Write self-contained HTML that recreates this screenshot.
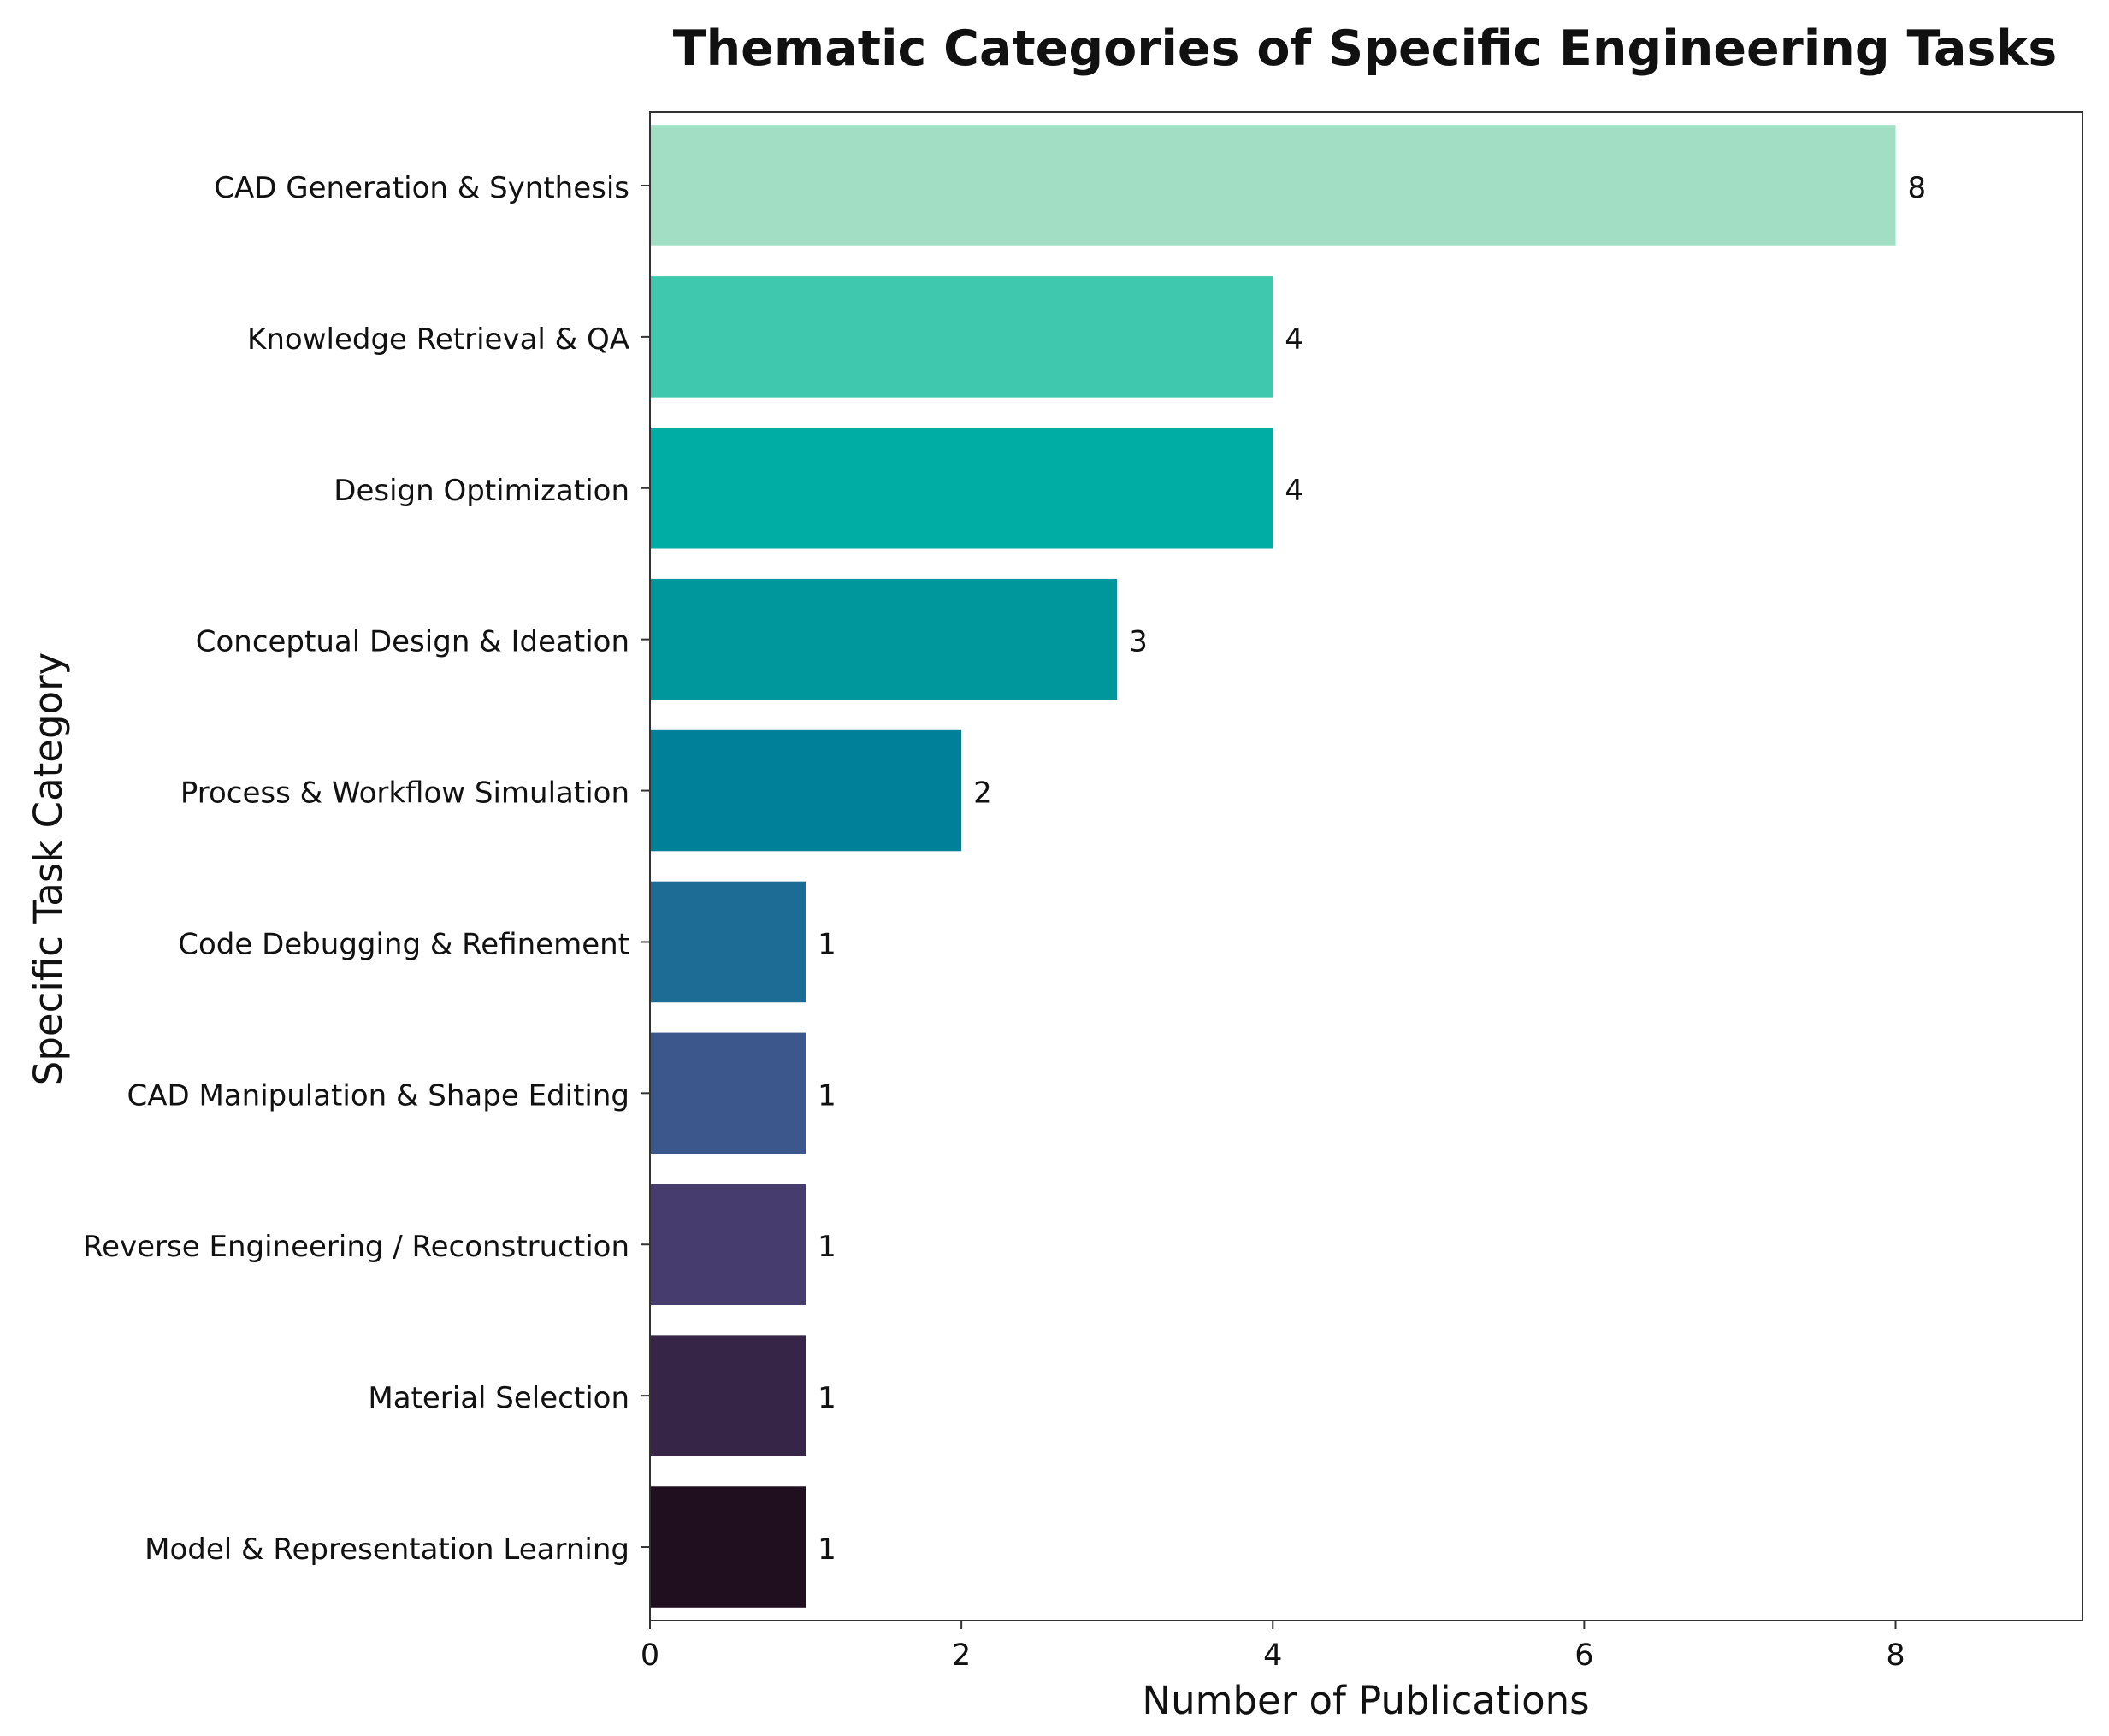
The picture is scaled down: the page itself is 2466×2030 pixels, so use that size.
<!DOCTYPE html>
<html><head><meta charset="utf-8"><style>html,body{margin:0;padding:0;background:#fff}svg{display:block}text{font-family:"DejaVu Sans","Liberation Sans",sans-serif;fill:#111}</style></head>
<body>
<svg id="chart" width="2466" height="2030" xmlns="http://www.w3.org/2000/svg">
<text x="1596" y="76" font-size="57" font-weight="bold" text-anchor="middle">Thematic Categories of Specific Engineering Tasks</text>
<text transform="translate(72,1016) rotate(-90)" font-size="45" text-anchor="middle">Specific Task Category</text>
<text x="1597" y="2004" font-size="45" text-anchor="middle">Number of Publications</text>
<g id="bars"></g><g id="ticks"></g>
<rect x="760" y="131" width="1675" height="1764" fill="none" stroke="#333" stroke-width="2"/>
</svg>
<script>
const categories=["CAD Generation & Synthesis","Knowledge Retrieval & QA","Design Optimization","Conceptual Design & Ideation","Process & Workflow Simulation","Code Debugging & Refinement","CAD Manipulation & Shape Editing","Reverse Engineering / Reconstruction","Material Selection","Model & Representation Learning"];
const values=[8,4,4,3,2,1,1,1,1,1];
const colors=["#a2dec3","#3fc8ad","#00ada4","#00979c","#00819a","#1d6c96","#3c578c","#473c6e","#372547","#200f1f"];
const xTicks=[0,2,4,6,8];
const L=760,R=2435,T=131,B=1895,xMax=9.2;
const x=v=>L+v/xMax*(R-L);
const n=categories.length, step=(B-T)/(n-1+0.972);
const y=i=>T+step*(0.486+i);
const NS="http://www.w3.org/2000/svg";
const bars=document.getElementById('bars'),ticks=document.getElementById('ticks');
function mk(tag,at,p){const e=document.createElementNS(NS,tag);for(const k in at)e.setAttribute(k,at[k]);p.appendChild(e);return e;}
categories.forEach((c,i)=>{
 const r=mk('rect',{x:x(0),y:y(i)-step*0.4,width:x(values[i])-x(0),height:step*0.8,fill:colors[i]},bars);
 
 
 const v=mk('text',{x:x(values[i])+14,y:y(i)+14,'font-size':34},bars);v.textContent=values[i];
 
 
 const tk=mk('line',{x1:L-10,x2:L,y1:y(i),y2:y(i),stroke:'#333','stroke-width':2},ticks);
 
 
 const t=mk('text',{x:L-24,y:y(i)+14,'font-size':34,'text-anchor':'end'},ticks);t.textContent=c;
 
 
});
xTicks.forEach(v=>{
 const tk=mk('line',{x1:x(v),x2:x(v),y1:B,y2:B+10,stroke:'#333','stroke-width':2},ticks);
 
 
 const t=mk('text',{x:x(v),y:B+52,'font-size':35,'text-anchor':'middle'},ticks);t.textContent=v;
 
 
});
</script>
</body></html>
